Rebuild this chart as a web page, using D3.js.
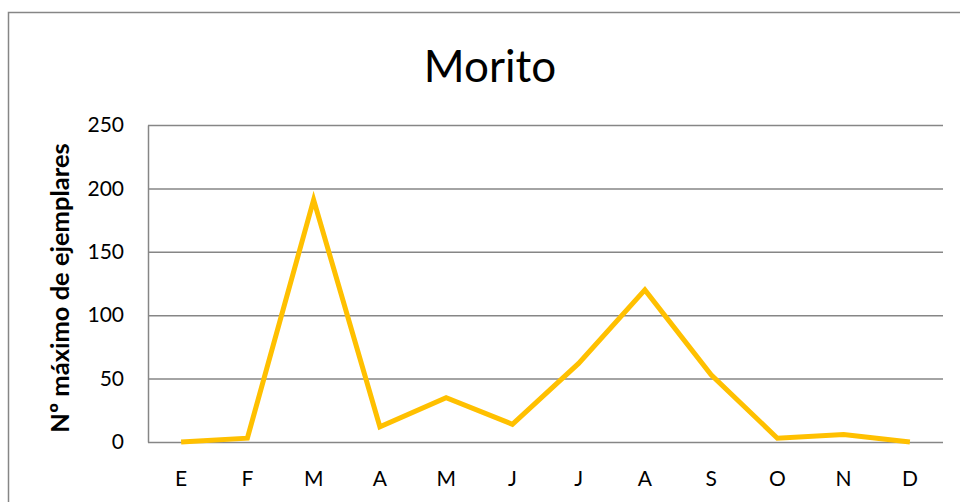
<!doctype html>
<html lang="es">
<head>
<meta charset="utf-8">
<title>Morito</title>
<script src="https://cdn.jsdelivr.net/npm/d3@7"></script>
<style>
  html, body { margin: 0; padding: 0; background: #fff; }
  body { font-family: Lato, "Open Sans", sans-serif; }
</style>
</head>
<body>
<svg id="chart" width="960" height="502"></svg>
<script>
// data
var months = ['E', 'F', 'M', 'A', 'M', 'J', 'J', 'A', 'S', 'O', 'N', 'D'];
var ejemplares = [0, 3, 191, 12, 35, 14, 62, 120, 53, 3, 6, 0];
var yTicks = [0, 50, 100, 150, 200, 250];

var svg = d3.select('#chart');
var margin = { top: 125, right: 17, bottom: 60, left: 148 };
var width = 960 - margin.left - margin.right,
    height = 442 - margin.top;

// outer chart frame
svg.append('rect')
  .attr('x', 8.5).attr('y', 12.5)
  .attr('width', 965).attr('height', 500)
  .attr('fill', 'none')
  .attr('stroke', '#868686')
  .attr('stroke-width', 1.5);

svg.append('text')
  .attr('x', 490).attr('y', 82)
  .attr('text-anchor', 'middle')
  .attr('font-size', 44)
  .attr('fill', '#000')
  .text('Morito');

var g = svg.append('g').attr('transform', 'translate(' + margin.left + ',' + margin.top + ')');

var x = d3.scaleBand().domain(d3.range(months.length)).range([0, width]);
var y = d3.scaleLinear().domain([0, 250]).range([height, 0]);

// gridlines
g.append('g')
  .call(d3.axisLeft(y).tickValues(yTicks).tickSize(-width).tickFormat(''))
  .call(s => s.select('.domain').remove())
  .selectAll('line')
  .attr('stroke', '#868686')
  .attr('stroke-width', 1.5);

// y axis labels
g.append('g')
  .call(d3.axisLeft(y).tickValues(yTicks).tickSize(0).tickPadding(24))
  .call(s => s.select('.domain').attr('stroke', '#868686').attr('stroke-width', 1.5))
  .selectAll('text')
  .attr('font-family', 'Lato, "Open Sans", sans-serif')
  .attr('font-size', 21)
  .attr('fill', '#000');

// x axis labels
g.append('g')
  .attr('transform', 'translate(0,' + height + ')')
  .call(d3.axisBottom(x).tickSize(0).tickPadding(25).tickFormat(i => months[i]))
  .call(s => s.select('.domain').remove())
  .selectAll('text')
  .attr('font-family', 'Lato, "Open Sans", sans-serif')
  .attr('font-size', 21)
  .attr('dy', '0.9em')
  .attr('fill', '#000');

// y axis title
svg.append('text')
  .attr('transform', 'translate(69,288) rotate(-90)')
  .attr('text-anchor', 'middle')
  .attr('font-size', 25.5)
  .attr('font-weight', 'bold')
  .text('Nº máximo de ejemplares');

var line = d3.line()
  .x((d, i) => x(i) + x.bandwidth() / 2)
  .y(d => y(d));

g.append('path')
  .datum(ejemplares)
  .attr('d', line)
  .attr('fill', 'none')
  .attr('stroke', '#FFC000')
  .attr('stroke-width', 5)
  .attr('stroke-linejoin', 'miter');
</script>
</body>
</html>
